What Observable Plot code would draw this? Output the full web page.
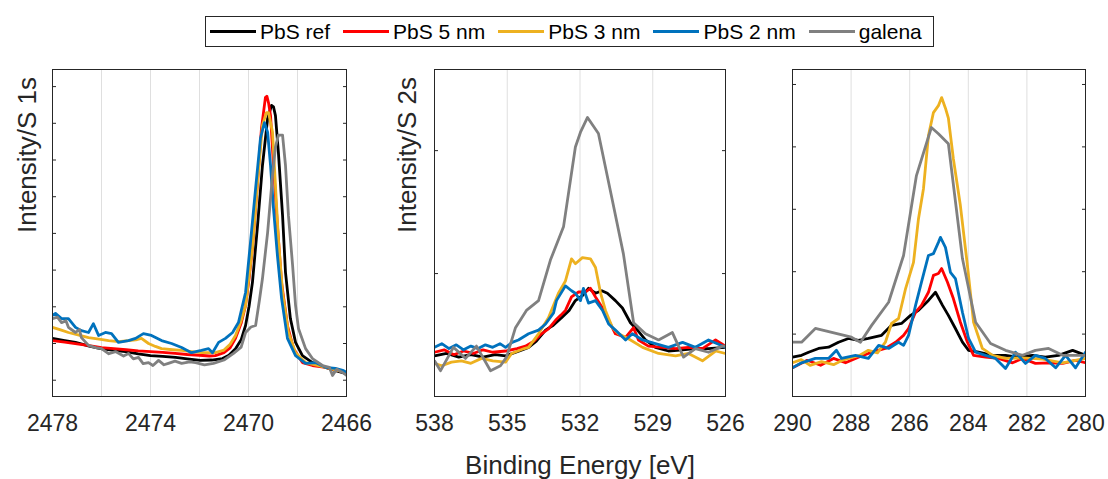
<!DOCTYPE html>
<html><head><meta charset="utf-8">
<script src="https://cdn.jsdelivr.net/npm/d3@7"></script>
<script src="https://cdn.jsdelivr.net/npm/@observablehq/plot@0.6"></script>
<style>
html,body{margin:0;padding:0;background:#fff;}
#wrap{position:relative;width:1108px;height:479px;overflow:hidden;font-family:"Liberation Sans",Arial,sans-serif;color:#262626;}
#wrap svg{position:absolute;left:0;top:0;}
#legend{position:absolute;left:205px;top:16px;width:729px;height:31px;border:1px solid #262626;background:#fff;display:flex;align-items:center;padding-left:4px;box-sizing:border-box;}
#legend .item{display:flex;align-items:center;margin-right:13px;}
#legend .sw{width:46px;height:3px;margin-right:4px;}
#legend .lb{font-size:21px;color:#000;line-height:1;white-space:nowrap;}
#xlabel{position:absolute;left:580px;top:452px;transform:translateX(-50%);font-size:26px;line-height:26px;white-space:nowrap;color:#262626;}
</style></head><body><div id="wrap"><div id="legend"></div><div id="xlabel">Binding Energy [eV]</div></div>
<script>
// ---- series meta ----
const seriesNames = ["PbS ref", "PbS 5 nm", "PbS 3 nm", "PbS 2 nm", "galena"];
const seriesColors = ["#000000", "#ff0000", "#edb120", "#0072bd", "#808080"];

// ---- Panel 1: S 1s (x: binding energy eV, y: intensity, arb.) ----
const p1Ref = [[2478.00,2.14],[2477.5,2.08],[2477.06,2.03],[2476.5,1.93],[2476.04,1.86],[2475.5,1.81],[2475.02,1.78],[2474.5,1.72],[2474.00,1.67],[2473.5,1.65],[2472.98,1.62],[2472.5,1.58],[2471.96,1.54],[2471.5,1.55],[2471.06,1.59],[2470.8,1.68],[2470.53,1.86],[2470.30,2.10],[2470.12,2.49],[2469.98,3.00],[2469.84,3.66],[2469.63,5.22],[2469.43,6.85],[2469.22,8.13],[2469.06,8.49],[2468.98,8.45],[2468.90,8.21],[2468.78,7.21],[2468.61,5.49],[2468.49,3.94],[2468.29,2.68],[2468.08,2.03],[2467.80,1.67],[2467.39,1.48],[2466.86,1.35],[2466.45,1.26],[2466.00,1.18]];
const p1Nm5 = [[2478.00,2.08],[2477.5,2.04],[2477.00,1.99],[2476.5,1.94],[2476.00,1.89],[2475.5,1.86],[2475.00,1.83],[2474.5,1.80],[2474.00,1.78],[2473.5,1.76],[2473.00,1.73],[2472.5,1.70],[2472.00,1.68],[2471.6,1.66],[2471.35,1.67],[2471.0,1.75],[2470.75,1.88],[2470.53,2.14],[2470.30,2.55],[2470.12,3.04],[2469.98,3.75],[2469.84,4.59],[2469.63,6.39],[2469.47,7.87],[2469.31,8.70],[2469.25,8.74],[2469.18,8.55],[2469.10,8.21],[2468.98,6.85],[2468.82,5.22],[2468.65,3.66],[2468.41,2.49],[2468.16,1.86],[2467.80,1.48],[2467.39,1.40],[2466.86,1.35],[2466.45,1.28],[2466.00,1.21]];
const p1Nm3 = [[2478.00,2.44],[2477.7,2.38],[2477.35,2.30],[2477.0,2.24],[2476.53,2.16],[2476.1,2.12],[2475.71,2.08],[2475.3,2.05],[2474.90,2.08],[2474.6,2.10],[2474.37,2.14],[2474.08,2.00],[2473.8,1.92],[2473.55,1.86],[2473.1,1.83],[2472.73,1.81],[2472.3,1.78],[2471.92,1.75],[2471.35,1.75],[2471.0,1.82],[2470.75,1.98],[2470.53,2.22],[2470.30,2.62],[2470.12,3.04],[2469.84,4.59],[2469.63,6.39],[2469.43,7.95],[2469.27,8.29],[2469.18,8.29],[2469.02,7.76],[2468.90,6.31],[2468.78,4.86],[2468.61,3.39],[2468.37,2.30],[2468.08,1.75],[2467.67,1.48],[2467.06,1.38],[2466.45,1.28],[2466.00,1.21]];
const p1Nm2 = [[2478.00,2.77],[2477.88,2.82],[2477.63,2.68],[2477.35,2.68],[2477.06,2.44],[2476.82,2.35],[2476.53,2.30],[2476.33,2.54],[2476.12,2.22],[2475.84,2.30],[2475.59,2.27],[2475.31,2.03],[2474.90,2.08],[2474.61,2.14],[2474.29,2.27],[2473.96,2.22],[2473.55,2.08],[2473.14,2.00],[2472.73,1.89],[2472.33,1.75],[2471.92,1.81],[2471.63,1.86],[2471.47,1.75],[2471.22,2.03],[2470.94,2.14],[2470.65,2.30],[2470.41,2.57],[2470.12,3.39],[2469.92,4.75],[2469.71,6.23],[2469.51,7.60],[2469.35,8.02],[2469.22,7.76],[2469.10,6.85],[2468.98,5.68],[2468.82,4.40],[2468.65,3.23],[2468.41,2.14],[2468.08,1.67],[2467.67,1.46],[2467.27,1.48],[2466.86,1.35],[2466.45,1.32],[2466.12,1.26],[2466.00,1.21]];
const p1Galena = [[2478.00,2.68],[2477.8,2.72],[2477.63,2.57],[2477.45,2.62],[2477.35,2.44],[2477.06,2.30],[2476.9,2.38],[2476.82,2.16],[2476.53,1.95],[2476.24,1.89],[2476.00,1.86],[2475.7,1.72],[2475.43,1.78],[2475.1,1.66],[2474.90,1.73],[2474.7,1.58],[2474.49,1.62],[2474.3,1.45],[2474.08,1.48],[2473.9,1.40],[2473.67,1.54],[2473.45,1.42],[2473.27,1.46],[2473.0,1.52],[2472.73,1.46],[2472.4,1.50],[2472.16,1.48],[2471.8,1.42],[2471.43,1.46],[2471.0,1.55],[2470.61,1.73],[2470.3,1.90],[2470.12,2.30],[2469.9,2.45],[2469.71,2.49],[2469.55,3.20],[2469.43,3.77],[2469.22,5.02],[2469.02,6.58],[2468.90,7.35],[2468.78,7.68],[2468.61,7.68],[2468.49,6.85],[2468.37,5.49],[2468.20,4.13],[2468.08,3.04],[2467.96,2.41],[2467.67,1.86],[2467.39,1.59],[2466.98,1.40],[2466.7,1.35],[2466.57,1.13],[2466.4,1.30],[2466.16,1.21],[2466.00,1.13]];

// ---- Panel 2: S 2s ----
const p2Ref = [[538.00,0.33],[537.5,0.35],[537.0,0.32],[536.5,0.34],[536.0,0.32],[535.5,0.34],[535.07,0.33],[534.5,0.37],[534.12,0.40],[533.8,0.45],[533.42,0.54],[533.1,0.58],[532.76,0.64],[532.45,0.70],[532.19,0.78],[531.90,0.82],[531.65,0.88],[531.36,0.84],[531.1,0.86],[530.87,0.84],[530.54,0.78],[530.25,0.72],[529.92,0.60],[529.63,0.54],[529.30,0.46],[528.89,0.40],[528.35,0.37],[527.77,0.38],[527.24,0.39],[526.70,0.39],[526.00,0.40]];
const p2Nm5 = [[538.00,0.36],[537.6,0.38],[537.2,0.34],[536.8,0.37],[536.4,0.35],[536.0,0.38],[535.6,0.36],[535.07,0.37],[534.6,0.39],[534.25,0.41],[533.9,0.45],[533.59,0.51],[533.3,0.55],[533.01,0.62],[532.8,0.66],[532.60,0.70],[532.35,0.81],[532.06,0.85],[531.77,0.85],[531.57,0.88],[531.36,0.81],[531.07,0.72],[530.82,0.62],[530.54,0.51],[530.12,0.48],[529.79,0.56],[529.59,0.46],[529.18,0.41],[528.60,0.40],[528.06,0.39],[527.53,0.40],[526.95,0.39],[526.41,0.46],[526.00,0.41]];
const p2Nm3 = [[538.00,0.27],[537.7,0.25],[537.3,0.28],[536.89,0.29],[536.5,0.27],[536.06,0.31],[535.6,0.29],[535.07,0.28],[534.82,0.35],[534.3,0.39],[534.12,0.40],[533.71,0.51],[533.30,0.64],[532.89,0.84],[532.60,0.94],[532.35,1.12],[532.19,1.08],[531.90,1.13],[531.57,1.12],[531.36,1.05],[531.15,0.84],[530.95,0.70],[530.66,0.56],[530.41,0.51],[530.00,0.47],[529.42,0.40],[528.76,0.35],[528.06,0.33],[527.53,0.35],[526.95,0.29],[526.41,0.37],[526.00,0.35]];
const p2Nm2 = [[538.00,0.40],[537.7,0.43],[537.4,0.39],[537.1,0.42],[536.8,0.38],[536.5,0.41],[536.2,0.39],[535.9,0.42],[535.6,0.40],[535.3,0.43],[535.07,0.40],[534.8,0.44],[534.54,0.46],[534.12,0.51],[533.71,0.54],[533.42,0.59],[533.09,0.68],[532.97,0.78],[532.60,0.90],[532.35,0.86],[532.19,0.84],[531.98,0.78],[531.86,0.88],[531.65,0.76],[531.36,0.78],[531.07,0.70],[530.82,0.59],[530.54,0.54],[530.12,0.46],[529.84,0.51],[529.42,0.46],[528.89,0.43],[528.35,0.40],[527.77,0.44],[527.24,0.40],[526.70,0.46],[526.00,0.40]];
const p2Galena = [[538.00,0.29],[537.75,0.21],[537.22,0.40],[536.72,0.31],[536.27,0.41],[535.69,0.21],[535.28,0.25],[535.03,0.32],[534.66,0.56],[534.21,0.70],[533.71,0.78],[533.22,1.11],[532.68,1.38],[532.19,2.03],[531.98,2.15],[531.69,2.27],[531.24,2.14],[530.66,1.59],[530.21,1.16],[529.79,0.60],[529.30,0.51],[528.76,0.46],[528.19,0.52],[527.73,0.32],[527.24,0.39],[526.70,0.36],[526.12,0.41],[526.00,0.41]];

// ---- Panel 3: C 1s ----
const p3Ref = [[290.00,0.63],[289.69,0.66],[289.45,0.71],[289.11,0.77],[288.77,0.79],[288.43,0.87],[288.09,0.93],[287.75,0.90],[287.41,0.93],[286.96,0.98],[286.62,1.14],[286.28,1.17],[285.97,1.30],[285.70,1.38],[285.36,1.54],[285.12,1.67],[284.88,1.46],[284.68,1.30],[284.44,1.09],[284.20,0.87],[283.99,0.74],[283.65,0.71],[283.17,0.66],[282.73,0.66],[282.29,0.63],[281.81,0.66],[281.37,0.63],[280.92,0.66],[280.44,0.74],[280.00,0.66]];
const p3Nm5 = [[290.00,0.46],[289.5,0.58],[289.04,0.50],[288.6,0.61],[288.19,0.54],[287.75,0.63],[287.30,0.71],[286.83,0.77],[286.48,0.87],[286.21,0.98],[286.04,1.09],[285.80,1.35],[285.60,1.46],[285.36,1.67],[285.19,1.94],[285.02,1.97],[284.91,2.05],[284.71,1.83],[284.51,1.57],[284.27,1.19],[284.03,0.87],[283.82,0.66],[283.41,0.63],[282.97,0.61],[282.49,0.54],[282.15,0.61],[281.71,0.53],[281.26,0.54],[280.78,0.53],[280.34,0.58],[280.00,0.54]];
const p3Nm3 = [[290.00,0.54],[289.7,0.59],[289.4,0.50],[289.01,0.56],[288.6,0.51],[288.3,0.58],[288.09,0.61],[287.7,0.66],[287.41,0.74],[287.1,0.70],[286.83,0.87],[286.62,1.17],[286.38,1.25],[286.14,1.73],[285.87,2.15],[285.70,2.85],[285.53,3.33],[285.36,4.18],[285.19,4.55],[285.02,4.66],[284.91,4.79],[284.78,4.62],[284.68,4.46],[284.51,3.81],[284.27,3.06],[284.03,2.10],[283.82,1.19],[283.52,0.77],[283.17,0.66],[282.73,0.61],[282.15,0.62],[281.47,0.60],[280.78,0.54],[280.00,0.61]];
const p3Nm2 = [[290.00,0.46],[289.69,0.54],[289.22,0.61],[288.77,0.61],[288.50,0.74],[288.33,0.61],[287.85,0.66],[287.41,0.61],[287.06,0.82],[286.72,0.77],[286.38,0.87],[286.21,0.82],[286.04,0.98],[285.80,1.46],[285.60,1.83],[285.36,2.26],[285.19,2.29],[285.02,2.47],[284.95,2.55],[284.78,2.39],[284.61,1.99],[284.44,1.89],[284.20,1.35],[283.99,0.93],[283.75,0.71],[283.41,0.66],[283.07,0.61],[282.73,0.45],[282.39,0.71],[282.05,0.53],[281.71,0.66],[281.37,0.61],[281.02,0.46],[280.68,0.66],[280.34,0.46],[280.00,0.71]];
const p3Galena = [[290.00,0.87],[289.69,0.87],[289.22,1.09],[287.99,0.95],[287.68,0.87],[287.30,1.14],[286.72,1.51],[286.21,2.26],[285.77,3.54],[285.26,4.31],[285.02,4.21],[284.68,4.05],[284.20,2.21],[283.75,1.19],[283.24,0.85],[282.73,0.74],[282.15,0.66],[281.71,0.74],[281.26,0.77],[280.78,0.66],[280.00,0.66]];

// ---- axes ----
const p1Domain = [2478, 2466], p1Grid = [2476, 2474, 2472, 2470, 2468], p1Labels = [2478, 2474, 2470, 2466], p1YTicks = [1,2,3,4,5,6,7,8,9], p1YDomain = [0.556, 9.466];
const p2Domain = [538, 526], p2Grid = [535, 532, 529], p2Labels = [538, 535, 532, 529, 526], p2YTicks = [1, 2], p2YDomain = [0, 2.66];
const p3Domain = [290, 280], p3Grid = [288, 286, 284, 282], p3Labels = [290, 288, 286, 284, 282, 280], p3YTicks = [1,2,3,4,5], p3YDomain = [0, 5.24];

const ink = "#262626";
function panel({series, xDomain, grid, labels, yTicks, yDomain, ml, mr, ylabel, ylabelDx}) {
  const marks = [
    Plot.gridX(grid, {stroke: "#dfdfdf", strokeOpacity: 1, strokeWidth: 1}),
    ...series.map((s, i) => Plot.line(s, {x: d => d[0], y: d => d[1], stroke: seriesColors[i], strokeWidth: 2.8, strokeLinejoin: "round", clip: true})),
    Plot.frame({stroke: ink, strokeWidth: 1}),
    Plot.axisY(yTicks, {anchor: "left", tickSize: 4, dx: 4, tickFormat: () => "", label: null, stroke: ink}),
    Plot.axisY(yTicks, {anchor: "right", tickSize: 4, dx: -4, tickFormat: () => "", label: null, stroke: ink}),
    Plot.axisX(labels, {anchor: "bottom", tickSize: 0, tickPadding: 18, fontSize: 23, label: null, fill: ink, tickFormat: d => String(d)})
  ];
  if (ylabel) marks.push(Plot.text([ylabel], {frameAnchor: "left", rotate: -90, dx: ylabelDx, fontSize: 26, fill: ink}));
  return Plot.plot({
    width: 1108, height: 479,
    marginLeft: ml, marginRight: mr, marginTop: 69, marginBottom: 83,
    style: {background: "transparent", fontFamily: "'Liberation Sans', Arial, sans-serif", overflow: "visible"},
    x: {domain: xDomain},
    y: {domain: yDomain},
    marks
  });
}

const wrap = document.getElementById("wrap");
wrap.appendChild(panel({series: [p1Ref, p1Nm5, p1Nm3, p1Nm2, p1Galena], xDomain: p1Domain, grid: p1Grid, labels: p1Labels, yTicks: p1YTicks, yDomain: p1YDomain, ml: 52, mr: 762, ylabel: "Intensity/S 1s", ylabelDx: -25}));
wrap.appendChild(panel({series: [p2Ref, p2Nm5, p2Nm3, p2Nm2, p2Galena], xDomain: p2Domain, grid: p2Grid, labels: p2Labels, yTicks: p2YTicks, yDomain: p2YDomain, ml: 434, mr: 383, ylabel: "Intensity/S 2s", ylabelDx: -27}));
wrap.appendChild(panel({series: [p3Ref, p3Nm5, p3Nm3, p3Nm2, p3Galena], xDomain: p3Domain, grid: p3Grid, labels: p3Labels, yTicks: p3YTicks, yDomain: p3YDomain, ml: 792, mr: 23, ylabel: null}));

// legend
const legend = document.getElementById("legend");
seriesNames.forEach((name, i) => {
  const item = document.createElement("div");
  item.className = "item";
  const sw = document.createElement("div");
  sw.className = "sw";
  sw.style.background = seriesColors[i];
  const lb = document.createElement("span");
  lb.className = "lb";
  lb.textContent = name;
  item.appendChild(sw); item.appendChild(lb);
  legend.appendChild(item);
});
wrap.appendChild(legend);
wrap.appendChild(document.getElementById("xlabel"));
</script>
</body></html>
